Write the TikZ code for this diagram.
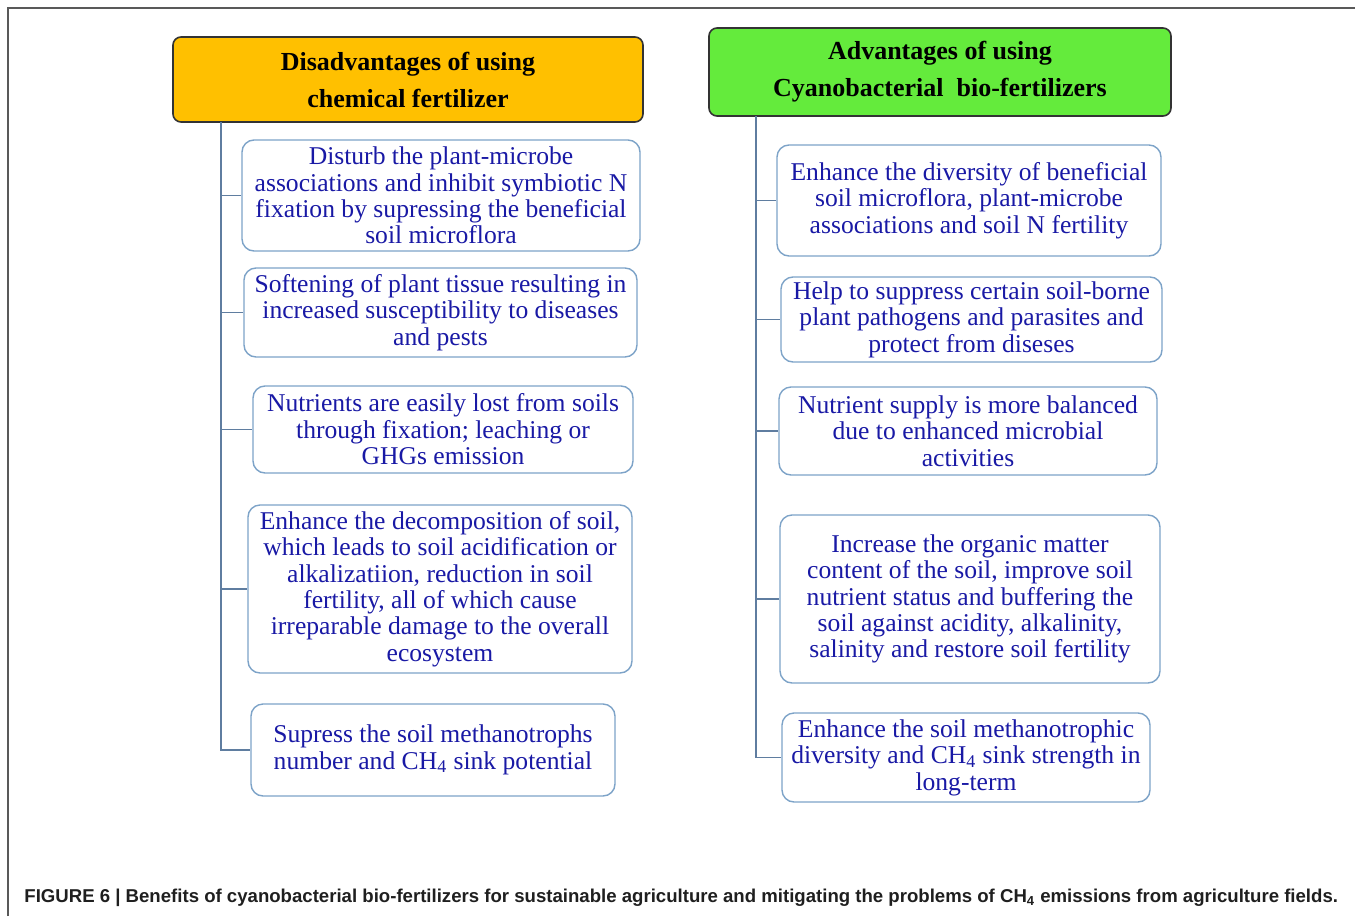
\documentclass[tikz,border=0pt]{standalone}
\usepackage{fontspec}
\setmainfont{Liberation Serif}
\newfontfamily\capfont{Liberation Sans}
\usetikzlibrary{positioning}

\definecolor{boxtext}{RGB}{25,25,165}
\definecolor{boxline}{RGB}{125,163,200}
\definecolor{trunkline}{RGB}{95,125,160}
\definecolor{headorange}{RGB}{255,192,0}
\definecolor{headgreen}{RGB}{100,235,60}

\begin{document}
\begin{tikzpicture}[x=0.5pt, y=-0.5pt, align=center,
  head/.style={draw=black!80, line width=0.8pt, rounded corners=4pt,
    font=\fontsize{13}{18.5}\selectfont\bfseries, inner sep=0pt},
  item/.style={draw=boxline, line width=0.7pt, rounded corners=6pt, fill=white,
    text=boxtext, font=\fontsize{12.8}{13.2}\selectfont, inner sep=0pt},
  branch/.style={draw=trunkline, line width=0.7pt},
  every node/.style={font=\small} ]

\useasboundingbox (0,0) rectangle (1355,916);

% Frame
\draw[black!65, line width=1pt] (8,916) -- (8,8) -- (1355,8);

% Headers
\node[head, fill=headorange, minimum width=235pt, minimum height=42.5pt] (disHead) at (408,79.5)
  {Disadvantages of using\\ chemical fertilizer};
\node[head, fill=headgreen, minimum width=231pt, minimum height=44pt] (advHead) at (940,72)
  {Advantages of using\\ Cyanobacterial\ \ bio-fertilizers};

% Disadvantages
\node[item, minimum width=199pt, minimum height=55.5pt] (dis1) at (441,195.5)
  {Disturb the plant-microbe\\ associations and inhibit symbiotic N\\ fixation by supressing the beneficial\\ soil microflora};
\node[item, minimum width=196.5pt, minimum height=44.5pt] (dis2) at (440.5,312.5)
  {Softening of plant tissue resulting in\\ increased susceptibility to diseases\\ and pests};
\node[item, minimum width=190pt, minimum height=43.5pt] (dis3) at (443,429.5)
  {Nutrients are easily lost from soils\\ through fixation; leaching or\\ GHGs emission};
\node[item, minimum width=192pt, minimum height=84pt] (dis4) at (440,589)
  {Enhance the decomposition of soil,\\ which leads to soil acidification or\\ alkalizatiion, reduction in soil\\ fertility, all of which cause\\ irreparable damage to the overall\\ ecosystem};
\node[item, minimum width=182pt, minimum height=46pt] (dis5) at (433,750)
  {Supress the soil methanotrophs\\ number and CH\textsubscript{4} sink potential};

% Advantages
\node[item, minimum width=192pt, minimum height=55.5pt] (adv1) at (969,200.5)
  {Enhance the diversity of beneficial\\ soil microflora, plant-microbe\\ associations and soil N fertility};
\node[item, minimum width=190.5pt, minimum height=42.5pt] (adv2) at (971.5,319.5)
  {Help to suppress certain soil-borne\\ plant pathogens and parasites and\\ protect from diseses};
\node[item, minimum width=189pt, minimum height=44pt] (adv3) at (968,431)
  {Nutrient supply is more balanced\\ due to enhanced microbial\\ activities};
\node[item, minimum width=190pt, minimum height=84pt] (adv4) at (970,599)
  {Increase the organic matter\\ content of the soil, improve soil\\ nutrient status and buffering the\\ soil against acidity, alkalinity,\\ salinity and restore soil fertility};
\node[item, minimum width=184pt, minimum height=44.5pt] (adv5) at (966,757.5)
  {Enhance the soil methanotrophic\\ diversity and CH\textsubscript{4} sink strength in\\ long-term};

% Trunks
\coordinate (disTop) at (221,122);
\coordinate (advTop) at (756,116);
\draw[branch] (disTop) |- (dis5.west);
\foreach \i in {1,2,3,4} \draw[branch] (disTop |- dis\i.west) -- (dis\i.west);
\draw[branch] (advTop) |- (adv5.west);
\foreach \i in {1,2,3,4} \draw[branch] (advTop |- adv\i.west) -- (adv\i.west);

% Caption
\node[anchor=west, inner sep=0pt, text=black!88, font=\capfont\bfseries\fontsize{9.3}{11}\selectfont] (caption) at (24,898)
  {FIGURE 6 | Benefits of cyanobacterial bio-fertilizers for sustainable agriculture and mitigating the problems of CH\textsubscript{4} emissions from agriculture fields.};

\end{tikzpicture}
\end{document}
